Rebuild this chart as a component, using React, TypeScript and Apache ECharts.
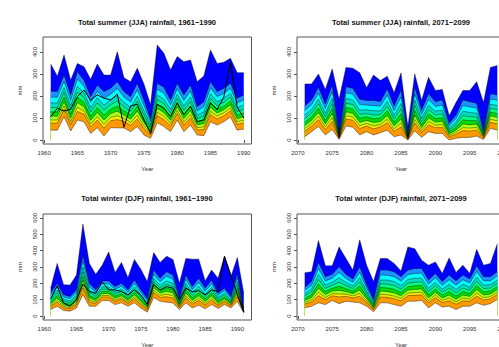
import React, { useEffect, useRef } from 'react';
import * as echarts from 'echarts';

const FONT = '"Liberation Sans", Arial, Helvetica, sans-serif';

// ---------- Summer 1961-1990 ----------
const spYears = [1961,1962,1963,1964,1965,1966,1967,1968,1969,1970,1971,1972,1973,1974,1975,1976,1977,1978,1979,1980,1981,1982,1983,1984,1985,1986,1987,1988,1989,1990];
const spB = [45,45,106,41,91,83,30,56,18,56,55,55,38,61,23,8,79,61,38,91,38,68,23,20,83,68,83,105,45,50];
const spO = [77,77,140,71,130,117,60,91,54,88,93,85,67,96,52,24,111,93,64,121,68,101,46,48,116,95,110,133,71,78];
const spY = [91,91,155,84,148,132,73,106,71,103,110,98,79,112,64,31,126,108,75,134,81,115,56,60,130,108,123,145,83,90];
const spG1 = [109,108,174,100,170,151,90,126,91,120,131,114,95,132,80,39,143,125,90,151,98,134,69,75,149,123,138,160,97,106];
const spG2 = [128,127,195,118,194,172,108,147,113,140,154,133,113,154,98,49,163,145,106,169,116,154,83,92,169,139,154,177,113,123];
const spSG = [148,147,216,136,218,193,127,169,135,160,177,151,130,175,115,58,183,165,122,188,135,174,97,109,189,156,171,194,129,140];
const spAQ = [169,168,238,156,244,215,147,192,159,181,202,171,149,199,134,69,204,186,139,208,155,195,113,128,210,174,189,212,147,159];
const spC = [195,194,267,180,277,244,172,221,190,208,234,195,173,228,158,82,231,213,160,233,180,223,132,151,238,197,212,235,168,182];
const spL = [222,220,295,205,310,272,197,250,220,235,265,220,197,258,182,95,258,240,182,258,205,250,151,174,265,220,235,258,190,205];
const spT = [345,290,386,272,348,333,276,345,295,295,401,283,265,326,255,160,432,394,318,379,356,364,265,291,409,348,353,371,306,306];
const spObs = [106,144,132,140,197,227,182,205,190,182,208,58,155,162,91,30,163,145,106,169,116,154,83,92,169,139,195,355,150,100];
const spBlkYears = [1987,1988,1989];
const spBlkLo = [190,205,130];
const spBlkHi = [195,355,150];

// ---------- Summer 2071-2099 ----------
const sfYears = [2071,2072,2073,2074,2075,2076,2077,2078,2079,2080,2081,2082,2083,2084,2085,2086,2087,2088,2089,2090,2091,2092,2093,2094,2095,2096,2097,2098,2099];
const sfB = [15,38,61,23,48,3,64,58,23,38,23,33,45,15,23,0,42,12,38,30,30,0,8,12,12,18,3,53,45];
const sfO = [40,64,93,48,84,8,96,90,52,64,51,59,79,40,60,4,78,34,69,56,57,14,27,43,41,45,10,81,74];
const sfY = [51,75,108,60,101,10,110,104,65,75,64,70,94,51,76,5,93,44,83,67,70,20,36,56,54,57,14,94,87];
const sfG1 = [65,90,125,74,121,13,128,122,81,89,80,84,112,65,96,7,113,57,100,82,85,27,46,73,70,72,18,110,103];
const sfG2 = [81,106,145,89,143,16,148,141,99,105,97,100,133,81,119,9,135,70,119,98,101,36,58,92,88,88,23,127,120];
const sfSG = [96,122,165,105,165,19,167,161,117,120,114,115,153,96,141,12,157,84,138,114,118,44,69,111,106,104,28,144,138];
const sfAQ = [113,139,186,122,189,22,189,182,136,137,133,132,176,113,166,14,181,99,158,131,136,53,82,131,125,122,34,163,157];
const sfC = [134,160,213,143,220,26,215,208,161,159,156,154,204,134,196,17,210,117,184,152,159,65,98,157,150,145,41,186,181];
const sfL = [155,182,240,164,250,30,242,235,185,180,180,175,232,155,227,20,240,136,210,174,182,76,114,182,174,167,45,210,205];
const sfT = [255,255,300,230,323,185,330,326,306,238,295,270,290,215,305,60,300,180,285,225,230,110,170,225,225,265,170,330,338];

// ---------- Winter 1961-1991 ----------
const wpYears = [1961,1962,1963,1964,1965,1966,1967,1968,1969,1970,1971,1972,1973,1974,1975,1976,1977,1978,1979,1980,1981,1982,1983,1984,1985,1986,1987,1988,1989,1990,1991];
const wpB = [40,60,34,30,50,131,60,60,95,95,70,81,60,81,50,24,114,90,85,80,40,81,50,66,45,70,47,70,50,90,20];
const wpO = [58,85,51,46,70,174,85,78,117,117,90,103,78,106,70,39,144,115,118,111,53,112,74,96,68,97,64,88,63,121,22];
const wpY = [66,96,59,53,79,194,97,86,126,126,99,112,86,117,79,46,157,127,133,124,58,125,84,109,78,109,71,96,68,134,23];
const wpG1 = [76,110,69,62,90,218,111,96,138,138,110,124,96,131,90,54,174,141,152,142,66,142,97,125,90,124,81,106,75,152,24];
const wpG2 = [87,126,80,72,102,244,126,107,151,151,122,137,107,147,102,63,192,156,172,160,73,161,112,144,104,141,91,117,83,170,25];
const wpSG = [99,141,90,82,114,271,142,119,165,165,134,151,119,162,114,72,211,172,193,179,81,180,126,162,118,158,102,129,91,189,26];
const wpAQ = [111,158,102,93,128,300,159,131,179,179,148,165,131,179,128,82,231,189,215,200,90,200,142,182,133,176,113,141,99,210,27];
const wpC = [126,179,116,107,144,336,180,146,197,197,164,183,146,200,144,95,256,210,243,225,100,226,161,206,152,198,127,156,110,235,29];
const wpL = [141,200,131,120,161,372,201,161,215,215,181,201,161,221,161,107,281,231,271,251,111,251,181,231,171,221,141,171,120,261,30];
const wpT = [171,322,191,190,251,563,322,255,311,392,267,328,235,346,287,211,388,328,366,346,201,352,348,348,215,281,231,366,241,358,140];
const wpObs = [105,185,80,60,100,195,150,140,210,160,160,150,130,160,130,70,195,160,180,170,100,170,150,155,130,160,150,365,250,130,25];
const wpBlkYears = [1987,1988,1989,1990];
const wpBlkLo = [120,60,45,110];
const wpBlkHi = [150,365,250,130];

// ---------- Winter 2071-2099 ----------
const wfYears = [2071,2072,2073,2074,2075,2076,2077,2078,2079,2080,2081,2082,2083,2084,2085,2086,2087,2088,2089,2090,2091,2092,2093,2094,2095,2096,2097,2098,2099];
const wfB = [50,60,81,70,95,76,91,86,81,60,26,81,81,70,60,91,91,95,50,81,55,60,40,60,60,81,66,76,101];
const wfO = [73,87,125,101,124,117,121,111,121,84,40,117,115,106,93,125,127,130,81,113,83,94,72,94,90,122,98,106,132];
const wfY = [83,99,145,114,137,135,134,123,138,94,46,133,130,122,107,140,143,146,94,128,96,110,86,110,103,140,112,119,145];
const wfG1 = [95,114,170,132,153,157,150,137,160,107,53,153,150,142,125,159,163,166,112,146,111,129,103,129,120,162,129,135,162];
const wfG2 = [109,131,197,150,170,182,168,152,184,122,61,175,172,164,145,180,185,187,130,166,128,150,122,150,138,187,148,154,181];
const wfSG = [123,148,224,169,188,207,186,168,209,136,70,197,195,187,165,201,207,209,149,185,145,171,142,171,157,212,168,172,200];
const wfAQ = [138,166,254,190,207,234,206,185,235,152,79,221,220,211,187,224,231,232,170,207,164,194,163,194,177,239,189,192,220];
const wfC = [156,188,291,215,231,267,230,206,268,171,90,251,250,241,214,253,261,262,195,234,188,222,189,222,202,273,215,216,246];
const wfL = [175,211,328,241,255,301,255,227,301,191,101,281,281,271,241,281,291,291,221,261,211,251,215,251,227,307,241,241,271];
const wfT = [265,271,462,307,307,422,352,281,466,311,211,352,352,322,275,422,412,342,311,331,261,355,267,311,261,408,311,322,442];

// tick labels
const xTicksPast = [1960, 1965, 1970, 1975, 1980, 1985, 1990];
const xTicksFut = [2070, 2075, 2080, 2085, 2090, 2095, 2100];
const yTicksSummer = [0, 100, 200, 300, 400];
const yTicksWinter = [0, 100, 200, 300, 400, 500, 600];

const titles = [
  'Total summer (JJA) rainfall, 1961\u22121990',
  'Total summer (JJA) rainfall, 2071\u22122099',
  'Total winter (DJF) rainfall, 1961\u22121990',
  'Total winter (DJF) rainfall, 2071\u22122099',
];

// band colours, bottom to top
const bandColors = ['#ff9900', '#ffee00', '#a8ff1a', '#00dd00', '#00ff80', '#00dcc0', '#00ffff', '#1e90ff', '#0000ff'];

function bandSeries(gi: number, years: number[], bounds: number[][]) {
  const out: any[] = [];
  for (let k = bounds.length - 1; k >= 0; k--) {
    const fill = k === 0 ? '#ffffff' : bandColors[k - 1];
    out.push({
      type: 'line',
      xAxisIndex: gi,
      yAxisIndex: gi,
      data: years.map((y, i) => [y, bounds[k][i]]),
      symbol: 'none',
      showSymbol: false,
      silent: true,
      lineStyle: { color: '#000', width: 0.5, opacity: 0.8 },
      areaStyle: { color: fill, opacity: 1, origin: k === 0 ? 'start' : 'auto' },
    });
  }
  return out;
}

function blackRegion(gi: number, years: number[], lo: number[], hi: number[]) {
  return {
    type: 'custom',
    xAxisIndex: gi,
    yAxisIndex: gi,
    silent: true,
    data: years.map((y, i) => [y, lo[i], hi[i]]),
    encode: { x: 0, y: [1, 2] },
    renderItem: (params: any, api: any) => {
      if (params.dataIndex !== 0) return null;
      const pts: number[][] = [];
      for (let i = 0; i < years.length; i++) pts.push(api.coord([years[i], hi[i]]));
      for (let i = years.length - 1; i >= 0; i--) pts.push(api.coord([years[i], lo[i]]));
      return { type: 'polygon', shape: { points: pts }, style: { fill: '#000' } };
    },
  };
}

function obsLine(gi: number, years: number[], vals: number[]) {
  return {
    type: 'line',
    xAxisIndex: gi,
    yAxisIndex: gi,
    data: years.map((y, i) => [y, vals[i]]),
    symbol: 'none',
    showSymbol: false,
    silent: true,
    lineStyle: { color: '#000', width: 1 },
  };
}

const axisColor = '#555';
const textColor = '#333';

function xAx(gi: number, min: number, max: number, ticks: number[]) {
  return {
    gridIndex: gi,
    type: 'value',
    min,
    max,
    axisLine: { show: false },
    axisTick: { show: true, inside: false, length: 3, customValues: ticks, lineStyle: { color: axisColor, width: 1 } },
    axisLabel: { show: true, customValues: ticks, fontSize: 6, color: textColor, margin: 6, fontFamily: FONT, formatter: (v: number) => String(v) },
    splitLine: { show: false },
    name: 'Year',
    nameLocation: 'middle',
    nameGap: 22,
    nameTextStyle: { fontSize: 6, color: textColor, fontFamily: FONT },
  };
}

function yAx(gi: number, min: number, max: number, ticks: number[]) {
  return {
    gridIndex: gi,
    type: 'value',
    min,
    max,
    axisLine: { show: false },
    axisTick: { show: true, inside: false, length: 3, customValues: ticks, lineStyle: { color: axisColor, width: 1 } },
    axisLabel: { show: true, customValues: ticks, fontSize: 6, color: textColor, margin: 5, rotate: 90, fontFamily: FONT, formatter: (v: number) => String(v) },
    splitLine: { show: false },
    name: 'mm',
    nameLocation: 'middle',
    nameGap: 20,
    nameRotate: 90,
    nameTextStyle: { fontSize: 6, color: textColor, fontFamily: FONT },
  };
}

const grids = [
  { left: 43, top: 37, width: 208.5, height: 107 },
  { left: 297, top: 37, width: 208, height: 107 },
  { left: 43, top: 214, width: 208.5, height: 106 },
  { left: 297, top: 214, width: 208, height: 106 },
];

export default function App() {
  const ref = useRef<HTMLDivElement>(null);
  useEffect(() => {
    if (!ref.current) return;
    const chart = echarts.init(ref.current, undefined, { renderer: 'svg' });
    const series: any[] = [
      ...bandSeries(0, spYears, [spB, spO, spY, spG1, spG2, spSG, spAQ, spC, spL, spT]),
      blackRegion(0, spBlkYears, spBlkLo, spBlkHi),
      obsLine(0, spYears, spObs),
      ...bandSeries(1, sfYears, [sfB, sfO, sfY, sfG1, sfG2, sfSG, sfAQ, sfC, sfL, sfT]),
      ...bandSeries(2, wpYears, [wpB, wpO, wpY, wpG1, wpG2, wpSG, wpAQ, wpC, wpL, wpT]),
      blackRegion(2, wpBlkYears, wpBlkLo, wpBlkHi),
      obsLine(2, wpYears, wpObs),
      ...bandSeries(3, wfYears, [wfB, wfO, wfY, wfG1, wfG2, wfSG, wfAQ, wfC, wfL, wfT]),
    ];
    const titlePos = [
      [147, 22],
      [401, 22],
      [147, 198],
      [401, 198],
    ];
    const titleEls = titles.map((t, i) => ({
      type: 'text',
      x: titlePos[i][0],
      y: titlePos[i][1],
      silent: true,
      style: {
        text: t,
        font: 'bold 7.5px ' + FONT,
        fill: '#111',
        align: 'center',
        verticalAlign: 'middle',
        textAlign: 'center',
        textVerticalAlign: 'middle',
      },
    }));
    const boxEls = grids.map((g) => ({
      type: 'rect',
      z: 100,
      silent: true,
      shape: { x: g.left, y: g.top, width: g.width, height: g.height },
      style: { fill: 'none', stroke: axisColor, lineWidth: 1 },
    }));
    chart.setOption({
      animation: false,
      backgroundColor: '#ffffff',
      grid: grids.map((g) => ({ ...g, show: false, containLabel: false, outerBoundsMode: 'none' })),
      xAxis: [
        xAx(0, 1959.84, 1991.16, xTicksPast),
        xAx(1, 2069.88, 2100.12, xTicksFut),
        xAx(2, 1959.8, 1992.2, xTicksPast),
        xAx(3, 2069.88, 2100.12, xTicksFut),
      ],
      yAxis: [
        yAx(0, -18, 468, yTicksSummer),
        yAx(1, -18, 468, yTicksSummer),
        yAx(2, -24, 624, yTicksWinter),
        yAx(3, -24, 624, yTicksWinter),
      ],
      series,
      graphic: [...titleEls, ...boxEls],
    });
    return () => chart.dispose();
  }, []);
  return <div ref={ref} style={{ position: 'fixed', left: 0, top: 0, width: 499, height: 347, background: '#fff' }} />;
}
